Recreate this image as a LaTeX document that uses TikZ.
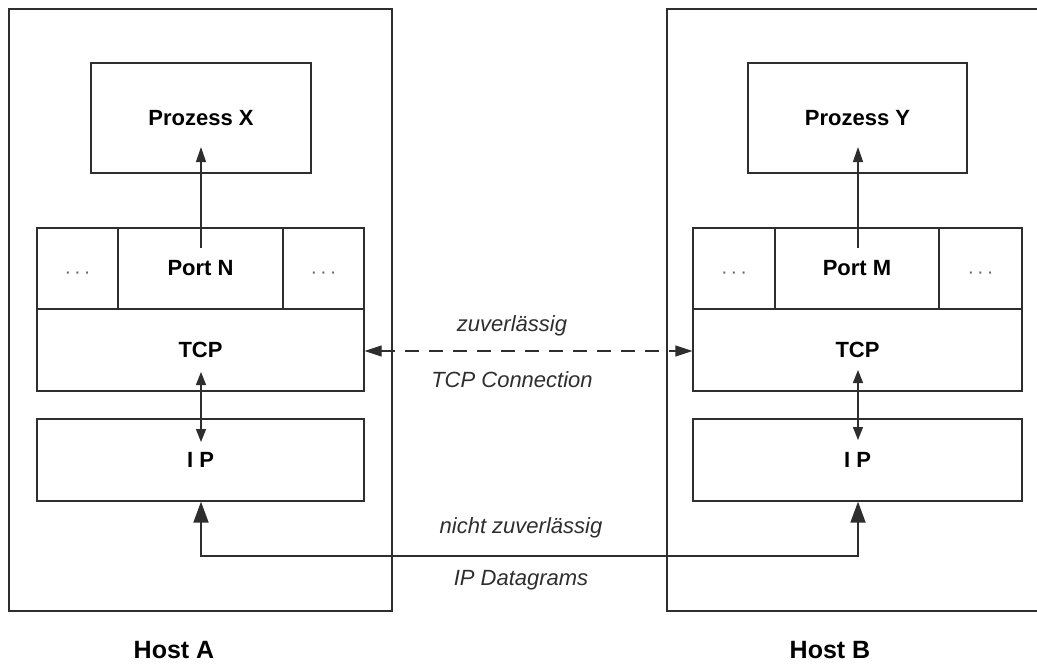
\documentclass[tikz,border=0pt]{standalone}
\usepackage{fontspec}
\setmainfont{Liberation Sans}
\usetikzlibrary{arrows.meta}
\definecolor{ink}{gray}{0.18}
\newcommand{\mydots}{·\hspace{3pt}·\hspace{3pt}·}
\tikzset{
  box/.style={draw=ink, line width=1.3pt, inner sep=0pt, rectangle},
  lbl/.style={font=\fontsize{22}{24}\selectfont\bfseries, text=black},
  dots/.style={font=\fontsize{20}{24}\selectfont, text=black!60},
  itl/.style={font=\fontsize{22}{24}\selectfont\itshape, text=ink, inner sep=0pt},
  hostlbl/.style={font=\fontsize{25}{27}\selectfont\bfseries, text=black},
  smallarr/.style={draw=ink, line width=1.2pt, -{Triangle[length=15pt,width=10pt]}},
  smallbi/.style={draw=ink, line width=1.2pt, {Triangle[length=13pt,width=10pt]}-{Triangle[length=13pt,width=10pt]}},
  dasharr/.style={draw=ink, line width=1.3pt, dash pattern=on 14pt off 10pt, {Triangle[length=17pt,width=11pt]}-{Triangle[length=17pt,width=11pt]}},
  bigarr/.style={draw=ink, line width=1.8pt, {Triangle[length=21pt,width=15pt]}-{Triangle[length=21pt,width=15pt]}},
}
\begin{document}
\begin{tikzpicture}[x=1pt,y=-1pt]
\useasboundingbox (0,0) rectangle (1037,664);
\fill[white] (0,0) rectangle (1037,664);
\clip (0,0) rectangle (1037,664);

% Hosts
\node[box, minimum width=383pt, minimum height=602pt] (hostA) at (200.5,310) {};
\node[box, minimum width=393pt, minimum height=602pt] (hostB) at (863.5,310) {};

% Host A contents
\node[box, lbl, minimum width=220pt, minimum height=110pt] (procX) at (201,118) {Prozess X};
\node[box, minimum width=81pt, minimum height=81pt] (pAl) at (77.5,268.5) {};
\node[box, lbl, minimum width=165pt, minimum height=81pt] (portN) at (200.5,268.5) {Port N};
\node[box, minimum width=81pt, minimum height=81pt] (pAr) at (323.5,268.5) {};
\node[box, lbl, minimum width=327pt, minimum height=82pt] (tcpA) at (200.5,350) {TCP};
\node[box, lbl, minimum width=327pt, minimum height=82pt] (ipA) at (200.5,460) {I P};

% Host B contents
\node[box, lbl, minimum width=219pt, minimum height=110pt] (procY) at (857.5,118) {Prozess Y};
\node[box, minimum width=82pt, minimum height=81pt] (pBl) at (734,268.5) {};
\node[box, lbl, minimum width=164pt, minimum height=81pt] (portM) at (857,268.5) {Port M};
\node[box, minimum width=83pt, minimum height=81pt] (pBr) at (980.5,268.5) {};
\node[box, lbl, minimum width=329pt, minimum height=82pt] (tcpB) at (857.5,350) {TCP};
\node[box, lbl, minimum width=329pt, minimum height=82pt] (ipB) at (857.5,460) {I P};

% ellipses in the port cells
\node[dots] (dAl) at (77.5,275) {\mydots};
\node[dots] (dAr) at (323.5,275) {\mydots};
\node[dots] (dBl) at (734,275) {\mydots};
\node[dots] (dBr) at (980.5,275) {\mydots};

% Host labels
\node[hostlbl] (labA) at (174,650) {Host A};
\node[hostlbl] (labB) at (830,650) {Host B};

% Port -> Prozess arrows
\coordinate (nA) at (201,248);
\coordinate (xA) at (201,147);
\coordinate (nB) at (858,248);
\coordinate (xB) at (858,147);
\draw[smallarr] (nA) -- (xA);
\draw[smallarr] (nB) -- (xB);

% TCP <-> IP arrows
\coordinate (tA) at (201,372);
\coordinate (iA) at (201,442);
\coordinate (tB) at (858,370);
\coordinate (iB) at (858,440);
\draw[smallbi] (tA) -- (iA);
\draw[smallbi] (tB) -- (iB);

% TCP connection (dashed)
\draw[dasharr] (tcpA.east |- 0,351) -- (tcpB.west |- 0,351);
\node[itl] (zuv) at (512,326) {zuverlässig};
\node[itl] (tcpc) at (512,380) {TCP Connection};

% IP datagrams
\coordinate (lowA) at (201,556);
\draw[bigarr] (ipA.south -| lowA) -- (lowA) -| (ipB.south -| tB);
\node[itl] (nzuv) at (521,528) {nicht zuverlässig};
\node[itl] (ipd) at (521,580) {IP Datagrams};
\end{tikzpicture}
\end{document}
